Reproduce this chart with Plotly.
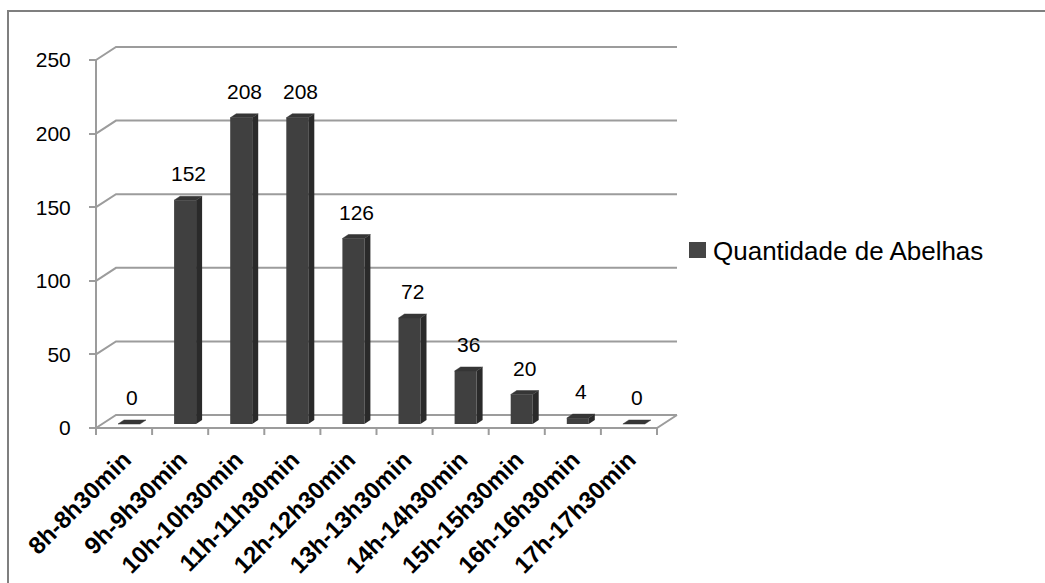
import plotly.graph_objects as go

# ---- data ----
categories = ["8h-8h30min", "9h-9h30min", "10h-10h30min", "11h-11h30min",
              "12h-12h30min", "13h-13h30min", "14h-14h30min", "15h-15h30min",
              "16h-16h30min", "17h-17h30min"]
abelhas = [0, 152, 208, 208, 126, 72, 36, 20, 4, 0]
y_ticks = [0, 50, 100, 150, 200, 250]
series_name = "Quantidade de Abelhas"

# ---- page / plot-area geometry (pixels) ----
W, H = 1045, 583
L, R, T, B = 80, 700, 30, 440
X0_PX, CAT_PX = 96, 56.1      # front floor left edge, width of one category
Y0_PX, VAL_PX = 428, 1.472    # front floor height, pixels per unit


def ux(px):
    return (px - X0_PX) / CAT_PX


def vy(py):
    return (Y0_PX - py) / VAL_PX


def paper_x(px):
    return (px - L) / (R - L)


def paper_y(py):
    return (B - py) / (B - T)


n = len(categories)
DEPTH_X = 20 / CAT_PX          # perspective offset of back wall
DEPTH_Y = 13 / VAL_PX
BAR_OFF = 22 / CAT_PX          # front face start inside category
BAR_W = 22 / CAT_PX
SIDE_X = 6 / CAT_PX            # visible column depth
SIDE_Y = 4 / VAL_PX
BASE = 4 / VAL_PX              # column front face sits a little behind the floor edge

GRID = "#9c9c9c"
FRONT = "#404040"
SIDE = "#2a2a2a"
TOP = "#363636"
FONT = "Liberation Sans, Arial, sans-serif"

fig = go.Figure()

# ---- walls, floor and gridlines (drawn below the columns) ----
shapes = []
back_right = n + DEPTH_X
for t in y_ticks:
    shapes.append(dict(
        type="path", xref="x", yref="y", layer="below",
        path=f"M0,{t} L{DEPTH_X},{t + DEPTH_Y} L{back_right},{t + DEPTH_Y}",
        line=dict(color=GRID, width=2)))
# front vertical axis edge
shapes.append(dict(type="line", xref="x", yref="y", layer="below",
                   x0=0, x1=0, y0=0, y1=y_ticks[-1],
                   line=dict(color=GRID, width=2)))
# front floor edge and right floor edge
shapes.append(dict(type="path", xref="x", yref="y", layer="below",
                   path=f"M0,0 L{n},0 L{n + DEPTH_X},{DEPTH_Y}",
                   line=dict(color=GRID, width=2)))
# category boundary ticks
for i in range(n + 1):
    shapes.append(dict(type="line", xref="x", yref="y", layer="below",
                       x0=i, x1=i, y0=0, y1=vy(435),
                       line=dict(color=GRID, width=2)))

# ---- columns: front faces ----
front_x = [i + BAR_OFF + BAR_W / 2 for i in range(n)]
fig.add_trace(go.Bar(
    x=front_x, y=abelhas, base=BASE, width=BAR_W,
    marker=dict(color=FRONT, line=dict(width=0)),
    showlegend=False, hoverinfo="skip"))

# ---- columns: side and top faces ----
side_x, side_y, top_x, top_y = [], [], [], []
for i, v in enumerate(abelhas):
    xl = i + BAR_OFF
    xr = xl + BAR_W
    y0 = BASE
    y1 = BASE + v
    if v > 0:
        side_x += [xr, xr + SIDE_X, xr + SIDE_X, xr, xr, None]
        side_y += [y0, y0 + SIDE_Y, y1 + SIDE_Y, y1, y0, None]
    top_x += [xl, xr, xr + SIDE_X, xl + SIDE_X, xl, None]
    top_y += [y1, y1, y1 + SIDE_Y, y1 + SIDE_Y, y1, None]

fig.add_trace(go.Scatter(x=side_x, y=side_y, mode="lines", fill="toself",
                         fillcolor=SIDE, line=dict(width=0, color=SIDE),
                         showlegend=False, hoverinfo="skip"))
fig.add_trace(go.Scatter(x=top_x, y=top_y, mode="lines", fill="toself",
                         fillcolor=TOP, line=dict(width=0.5, color=TOP),
                         showlegend=False, hoverinfo="skip"))

# ---- value labels ----
annotations = []
for i, v in enumerate(abelhas):
    annotations.append(dict(
        x=i + BAR_OFF + BAR_W / 2 + 3 / CAT_PX,
        y=BASE + v + SIDE_Y + 9 / VAL_PX,
        xref="x", yref="y", text=str(v), showarrow=False,
        xanchor="center", yanchor="bottom",
        font=dict(family=FONT, size=21, color="black")))

# ---- legend ----
shapes.append(dict(type="rect", xref="paper", yref="paper",
                   x0=paper_x(689), x1=paper_x(706),
                   y0=paper_y(258), y1=paper_y(242),
                   fillcolor="#454545", line=dict(width=0)))
annotations.append(dict(x=paper_x(711), y=paper_y(251), xref="paper", yref="paper",
                        text=series_name, showarrow=False,
                        xanchor="left", yanchor="middle",
                        font=dict(family=FONT, size=26, color="black")))

# ---- chart-area border ----
shapes.append(dict(type="rect", xref="paper", yref="paper",
                   x0=paper_x(8), x1=paper_x(1070),
                   y0=paper_y(610), y1=paper_y(11),
                   line=dict(color="#7f7f7f", width=2)))

fig.update_layout(
    width=W, height=H,
    margin=dict(l=L, r=W - R, t=T, b=H - B),
    paper_bgcolor="white", plot_bgcolor="white",
    showlegend=False,
    shapes=shapes, annotations=annotations,
    xaxis=dict(range=[ux(L), ux(R)], showgrid=False, zeroline=False,
               showline=False, ticks="", automargin=False,
               tickmode="array", tickvals=[i + 0.5 for i in range(n)],
               ticktext=categories, tickangle=-45,
               tickfont=dict(family=FONT, size=24, color="black", weight="bold")),
    yaxis=dict(range=[vy(B), vy(T)], showgrid=False, zeroline=False,
               showline=False, anchor="free", position=paper_x(X0_PX),
               automargin=False,
               tickmode="array", tickvals=y_ticks,
               ticks="outside", ticklen=7, tickwidth=2, tickcolor=GRID,
               ticklabelstandoff=14,
               tickfont=dict(family=FONT, size=21, color="black")),
)

fig.write_html("out.html")
